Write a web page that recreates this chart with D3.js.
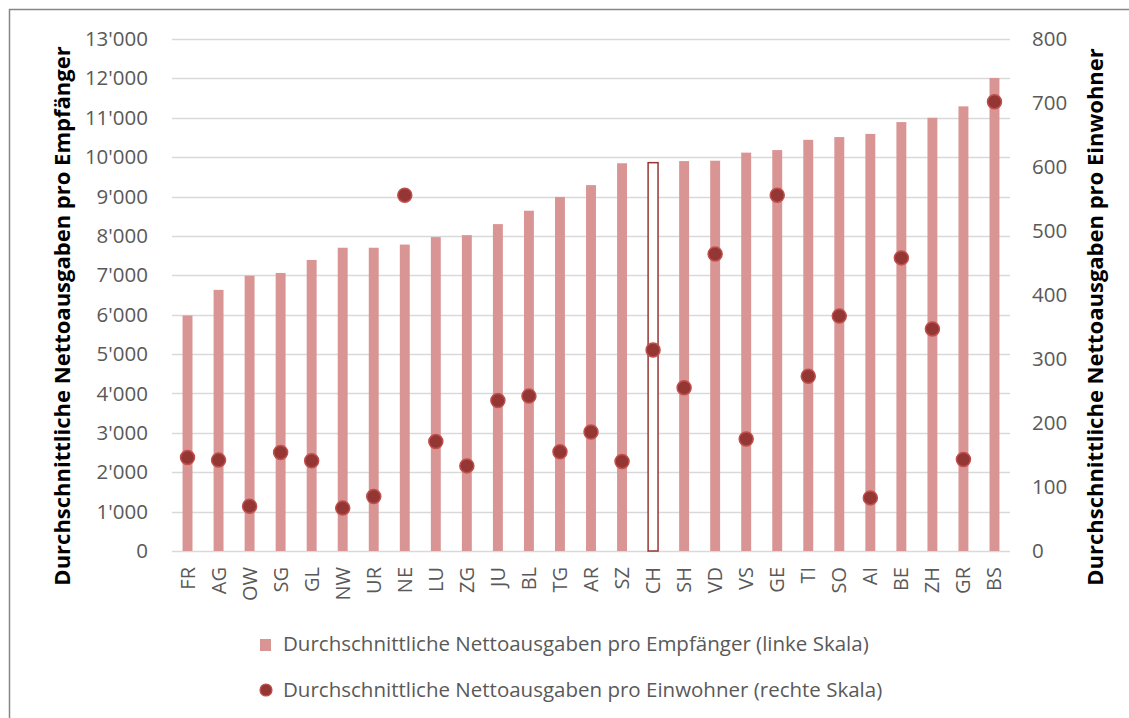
<!DOCTYPE html>
<html><head><meta charset="utf-8">
<script src="https://cdn.jsdelivr.net/npm/d3@7"></script>
<style>body{margin:0;background:#fff;} svg{display:block;font-family:"Open Sans",sans-serif;}</style>
</head><body>
<svg id="c" width="1129" height="718"></svg>
<script>
const categories = ["FR","AG","OW","SG","GL","NW","UR","NE","LU","ZG","JU","BL","TG","AR","SZ","CH","SH","VD","VS","GE","TI","SO","AI","BE","ZH","GR","BS"];
const perRecipient = [5980,6630,6990,7060,7390,7700,7700,7780,7970,8020,8300,8640,8990,9290,9845,9860,9900,9910,10115,10180,10440,10510,10590,10890,11000,11290,12010];
const perInhabitant = [146,142,70,154,141,67,85,556,171,133,235,242,155,186,140,314,255,464,175,556,273,367,83,458,347,143,702];
const leftTicks = [0,1000,2000,3000,4000,5000,6000,7000,8000,9000,10000,11000,12000,13000];
const rightTicks = [0,100,200,300,400,500,600,700,800];
const highlight = "CH";
const seriesNames = ["Durchschnittliche Nettoausgaben pro Empfänger (linke Skala)","Durchschnittliche Nettoausgaben pro Einwohner (rechte Skala)"];
const leftTitle = "Durchschnittliche Nettoausgaben pro Empfänger";
const rightTitle = "Durchschnittliche Nettoausgaben pro Einwohner";

const FONT = "'Open Sans',sans-serif";
const svg = d3.select("#c");
const L = 172, R = 1010, T = 39, B = 551;
const x = d3.scaleBand().domain(categories).range([L, R]).paddingInner(0.68).paddingOuter(0.34);
const yL = d3.scaleLinear().domain([0,13000]).range([B,T]);
const yR = d3.scaleLinear().domain([0,800]).range([B,T]);
const fmt = v => d3.format(",")(v).replace(/,/g,"'");

// frame
svg.append("rect").attr("x",9.5).attr("y",9.5).attr("width",1300).attr("height",900)
  .attr("fill","none").attr("stroke","#868686").attr("stroke-width",1.5);

// gridlines
svg.append("g").selectAll("line").data(leftTicks).join("line")
  .attr("x1",L).attr("x2",R).attr("y1",d=>Math.round(yL(d))+0.5).attr("y2",d=>Math.round(yL(d))+0.5)
  .attr("stroke","#d9d9d9").attr("stroke-width",1.5);

// left axis
const axL = svg.append("g").attr("transform",`translate(${L},0)`)
  .call(d3.axisLeft(yL).tickValues(leftTicks).tickFormat(fmt).tickSize(0).tickPadding(24));
axL.select(".domain").remove();
axL.selectAll("text").attr("fill","#595959").style("font-size","20.5px").style("font-family",FONT);

// right axis
const axR = svg.append("g").attr("transform",`translate(${R},0)`)
  .call(d3.axisRight(yR).tickValues(rightTicks).tickSize(0).tickPadding(22));
axR.select(".domain").remove();
axR.selectAll("text").attr("fill","#595959").style("font-size","20.5px").style("font-family",FONT);

// bars
svg.append("g").selectAll("rect").data(categories).join("rect")
  .attr("x",d=>x(d)).attr("width",x.bandwidth())
  .attr("y",(d,i)=>yL(perRecipient[i])).attr("height",(d,i)=>B-yL(perRecipient[i]))
  .attr("fill",d=>d===highlight?"#fff":"#d99594")
  .attr("stroke",d=>d===highlight?"#953735":"none").attr("stroke-width",1.5);

// dots
svg.append("g").selectAll("circle").data(categories).join("circle")
  .attr("cx",d=>x(d)+x.bandwidth()/2).attr("cy",(d,i)=>yR(perInhabitant[i])).attr("r",7)
  .attr("fill","#943634").attr("stroke","#c0504d").attr("stroke-width",1.5);

// x labels
svg.append("g").selectAll("text").data(categories).join("text")
  .attr("transform",d=>`translate(${x(d)+x.bandwidth()/2+7},567) rotate(-90)`)
  .attr("text-anchor","end").attr("fill","#595959").style("font-size","20px").style("font-family",FONT).text(d=>d);

// axis titles
svg.append("text").attr("transform",`translate(70,316) rotate(-90)`).attr("text-anchor","middle")
  .style("font-size","22px").style("font-weight","bold").style("font-family",FONT).attr("fill","#000").text(leftTitle);
svg.append("text").attr("transform",`translate(1103,317) rotate(-90)`).attr("text-anchor","middle")
  .style("font-size","22px").style("font-weight","bold").style("font-family",FONT).attr("fill","#000").text(rightTitle);

// legend
const lg = svg.append("g");
lg.append("rect").attr("x",260).attr("y",639).attr("width",11).attr("height",12).attr("fill","#d99594");
lg.append("text").attr("x",283).attr("y",651).attr("fill","#595959").style("font-size","20.5px").style("font-family",FONT).text(seriesNames[0]);
lg.append("circle").attr("cx",266).attr("cy",690).attr("r",6).attr("fill","#943634").attr("stroke","#c0504d").attr("stroke-width",1.2);
lg.append("text").attr("x",283).attr("y",697).attr("fill","#595959").style("font-size","20.5px").style("font-family",FONT).text(seriesNames[1]);
</script>
</body></html>
